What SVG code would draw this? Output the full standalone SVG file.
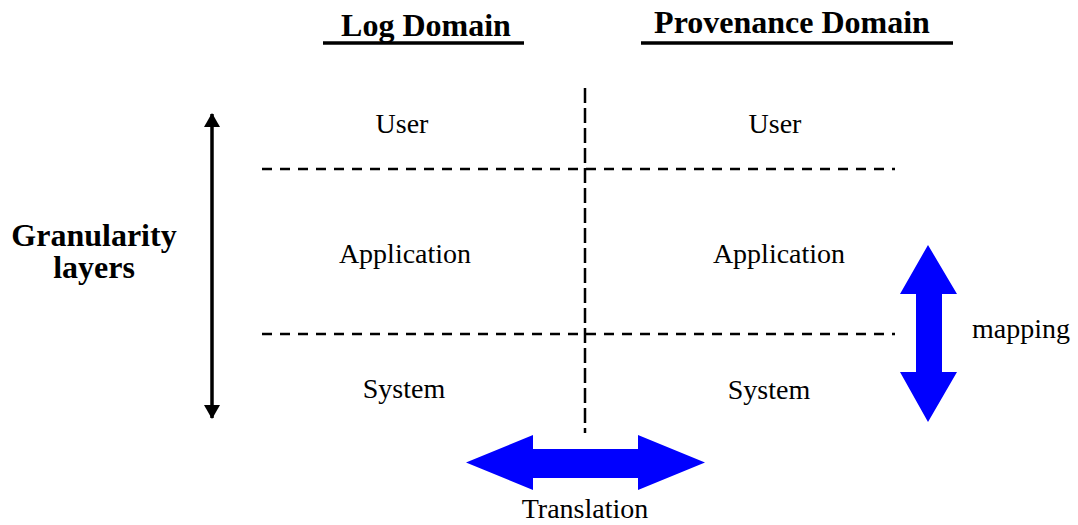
<svg xmlns="http://www.w3.org/2000/svg" width="1078" height="525" viewBox="0 0 1078 525">
<style>
.t{font-family:"Liberation Serif",serif;font-size:28px;fill:#000}
.h{font-family:"Liberation Serif",serif;font-size:32px;font-weight:bold;fill:#000}
.dh{stroke:#000;stroke-width:2.5;stroke-dasharray:10 8;fill:none}
.dv{stroke:#000;stroke-width:2.5;stroke-dasharray:15 5;fill:none}
.ul{stroke:#000;stroke-width:3.5}
.big{fill:#0000ff}
</style>
<defs>
<marker id="ah" viewBox="0 0 14 16" refX="13" refY="8" markerWidth="14" markerHeight="16" orient="auto-start-reverse" markerUnits="userSpaceOnUse">
<path d="M0,0 L14,8 L0,16 z" fill="#000"/>
</marker>
</defs>
<rect width="1078" height="525" fill="#fff"/>
<g id="headers">
<text class="h" x="426" y="36" text-anchor="middle">Log Domain</text>
<line class="ul" x1="323" y1="43" x2="524" y2="43"/>
<text class="h" x="792" y="33" text-anchor="middle">Provenance Domain</text>
<line class="ul" x1="641" y1="43" x2="953" y2="43"/>
</g>
<g id="granularity">
<text class="h" x="94" y="246" text-anchor="middle">Granularity</text>
<text class="h" x="94" y="278" text-anchor="middle">layers</text>
</g>
<g id="connectors">
<line x1="212" y1="114" x2="212" y2="418" stroke="#000" stroke-width="3.5" marker-start="url(#ah)" marker-end="url(#ah)"/>
<line class="dh" x1="262" y1="169" x2="895" y2="169"/>
<line class="dh" x1="262" y1="334" x2="895" y2="334"/>
<line class="dv" x1="585" y1="88" x2="585" y2="433"/>
</g>
<g id="cells">
<text class="t" x="402" y="133" text-anchor="middle">User</text>
<text class="t" x="775" y="133" text-anchor="middle">User</text>
<text class="t" x="405" y="263" text-anchor="middle">Application</text>
<text class="t" x="779" y="263" text-anchor="middle">Application</text>
<text class="t" x="404" y="398" text-anchor="middle">System</text>
<text class="t" x="769" y="399" text-anchor="middle">System</text>
</g>
<g id="translation">
<path class="big" d="M466,462.5 L533,435 L533,449 L638,449 L638,435 L705,462.5 L638,490 L638,478 L533,478 L533,490 Z"/>
<text class="t" x="585" y="518" text-anchor="middle">Translation</text>
</g>
<g id="mapping">
<path class="big" d="M928,245 L957,294 L942,294 L942,372 L957,372 L928,422 L900,372 L916,372 L916,294 L900,294 Z"/>
<text class="t" x="972" y="338">mapping</text>
</g>
</svg>
